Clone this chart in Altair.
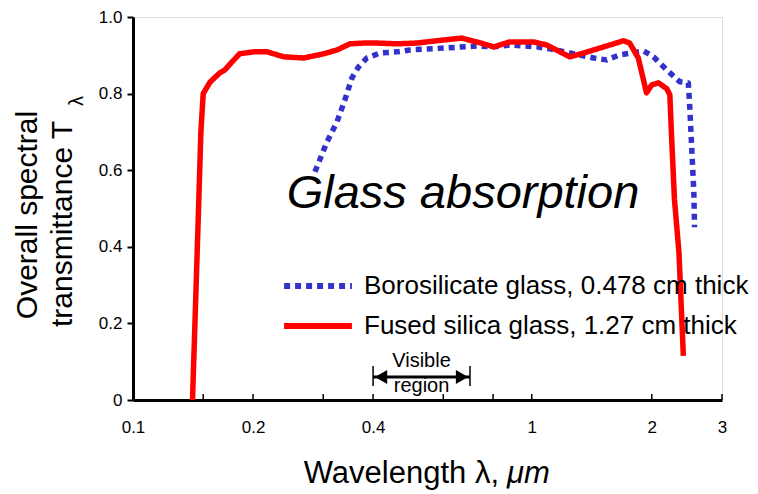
import altair as alt
import pandas as pd

# ---------------- data ----------------
boro_label = "Borosilicate glass, 0.478 cm thick"
fused_label = "Fused silica glass, 1.27 cm thick"

boro_wl = [0.286, 0.306, 0.325, 0.340, 0.354, 0.368, 0.386, 0.416, 0.459, 0.495,
           0.602, 0.728, 0.803, 0.881, 1.03, 1.11, 1.245, 1.43, 1.54, 1.66,
           1.91, 2.02, 2.18, 2.35, 2.47, 2.49, 2.52, 2.55, 2.56]
boro_T = [0.596, 0.672, 0.727, 0.784, 0.841, 0.870, 0.893, 0.906, 0.909, 0.914,
          0.919, 0.924, 0.922, 0.927, 0.922, 0.917, 0.906, 0.893, 0.888, 0.901,
          0.911, 0.896, 0.862, 0.831, 0.828, 0.766, 0.654, 0.542, 0.451]

fused_wl = [0.141, 0.143, 0.1455, 0.148, 0.150, 0.156, 0.165, 0.170, 0.185, 0.201,
            0.217, 0.239, 0.268, 0.301, 0.325, 0.350, 0.379, 0.409, 0.459, 0.515,
            0.578, 0.668, 0.728, 0.803, 0.881, 1.01, 1.09, 1.245, 1.35, 1.70,
            1.76, 1.85, 1.94, 2.0, 2.08, 2.18, 2.22, 2.24, 2.28, 2.34, 2.40]
fused_T = [0.0, 0.2, 0.45, 0.7, 0.80, 0.83, 0.854, 0.862, 0.904, 0.909,
           0.909, 0.896, 0.893, 0.904, 0.914, 0.930, 0.932, 0.932, 0.930, 0.932,
           0.938, 0.945, 0.935, 0.922, 0.935, 0.935, 0.927, 0.896, 0.906, 0.938,
           0.932, 0.893, 0.802, 0.823, 0.828, 0.813, 0.797, 0.698, 0.523, 0.385, 0.115]

x_label_values = [0.1, 0.2, 0.4, 1, 2, 3]
x_minor_ticks = [0.15, 0.2, 0.3, 0.4, 0.6, 0.8, 1, 2, 3]
y_tick_values = [0, 0.2, 0.4, 0.6, 0.8, 1.0]
visible_range = [0.4, 0.7]

title_text = "Glass absorption"
x_title_main = "Wavelength \u03bb,"
x_title_unit = "\u03bcm"
y_title_line1 = "Overall spectral"
y_title_line2 = "transmittance T"
y_title_sub = "\u03bb"
visible_text = ["Visible", "region"]

FONT = "Liberation Sans"
BLUE = "#3333cc"
RED = "#ff0000"

# ---------------- build tables ----------------
df = pd.concat([
    pd.DataFrame({"wl": boro_wl, "T": boro_T, "series": boro_label,
                  "order": list(range(len(boro_wl)))}),
    pd.DataFrame({"wl": fused_wl, "T": fused_T, "series": fused_label,
                  "order": list(range(len(fused_wl)))}),
], ignore_index=True)

xscale = alt.Scale(type="log", domain=[0.1, 3])
yscale = alt.Scale(domain=[0, 1])

xaxis = alt.Axis(values=x_label_values, format="~g", ticks=False, tickSize=0,
                 labelFlush=False, labelOverlap=False, labelPadding=19,
                 labelFontSize=17, labelFont=FONT, labelColor="black",
                 domainWidth=3, domainColor="black", grid=False, title=None)
yaxis = alt.Axis(values=y_tick_values,
                 labelExpr="datum.value == 0 ? '0' : format(datum.value, '.1f')",
                 tickSize=6, tickWidth=2, tickColor="black",
                 domainWidth=3, domainColor="black", grid=False, title=None,
                 labelFontSize=17, labelFont=FONT, labelColor="black", labelPadding=5)


def X(field="wl"):
    return alt.X(f"{field}:Q", scale=xscale, axis=xaxis)


def Y(field="T"):
    return alt.Y(f"{field}:Q", scale=yscale, axis=yaxis)


legend = alt.Legend(title=None, orient="none", legendX=148, legendY=256,
                    symbolType="stroke", symbolSize=4600, symbolStrokeWidth=6,
                    clipHeight=26, rowPadding=14, labelFontSize=26, labelFont=FONT,
                    labelColor="black", labelOffset=9, padding=0, labelLimit=600)

series_domain = [boro_label, fused_label]

lines = alt.Chart(df).mark_line(strokeWidth=5.5, strokeCap="butt", strokeJoin="round").encode(
    x=X(), y=Y(),
    color=alt.Color("series:N", scale=alt.Scale(domain=series_domain, range=[BLUE, RED]),
                    legend=legend),
    strokeDash=alt.StrokeDash("series:N",
                              scale=alt.Scale(domain=series_domain, range=[[6, 5], [1, 0]]),
                              legend=legend),
    order="order:Q",
)

minor = alt.Chart(pd.DataFrame({"wl": x_minor_ticks})).mark_rule(
    color="black", strokeWidth=1.5).encode(x=X(), y=alt.value(383), y2=alt.value(377))

vis_df = pd.DataFrame({"wl": visible_range})
vis_bars = alt.Chart(vis_df).mark_rule(color="black", strokeWidth=1.5).encode(
    x=X(), y=alt.value(349), y2=alt.value(369))
vis_line = alt.Chart(pd.DataFrame({"wl": [visible_range[0]], "wl2": [visible_range[1]]})).mark_rule(
    color="black", strokeWidth=3).encode(x=X(), x2="wl2:Q", y=alt.value(360))
arrow_l = alt.Chart(pd.DataFrame({"wl": [visible_range[0]]})).mark_point(
    shape="triangle-left", filled=True, color="black", opacity=1, size=200, xOffset=8).encode(
    x=X(), y=alt.value(360))
arrow_r = alt.Chart(pd.DataFrame({"wl": [visible_range[1]]})).mark_point(
    shape="triangle-right", filled=True, color="black", opacity=1, size=200, xOffset=-8).encode(
    x=X(), y=alt.value(360))
mid = (visible_range[0] * visible_range[1]) ** 0.5
vis_t1 = alt.Chart(pd.DataFrame({"wl": [mid], "t": [visible_text[0]]})).mark_text(
    font=FONT, fontSize=20, color="black", baseline="middle", align="center").encode(
    x=X(), y=alt.value(344), text="t:N")
vis_t2 = alt.Chart(pd.DataFrame({"wl": [mid], "t": [visible_text[1]]})).mark_text(
    font=FONT, fontSize=20, color="black", baseline="middle", align="center").encode(
    x=X(), y=alt.value(369), text="t:N")

title_layer = alt.Chart(pd.DataFrame({"t": [title_text]})).mark_text(
    font=FONT, fontSize=47, fontStyle="italic", color="black", align="center",
    baseline="alphabetic").encode(x=alt.value(330), y=alt.value(191), text="t:N")

xt1 = alt.Chart(pd.DataFrame({"t": [x_title_main]})).mark_text(
    font=FONT, fontSize=31, color="black", align="right", baseline="alphabetic").encode(
    x=alt.value(366), y=alt.value(466), text="t:N")
xt2 = alt.Chart(pd.DataFrame({"t": [x_title_unit]})).mark_text(
    font=FONT, fontSize=31, fontStyle="italic", color="black", align="left",
    baseline="alphabetic").encode(x=alt.value(374), y=alt.value(466), text="t:N")

yt1 = alt.Chart(pd.DataFrame({"t": [y_title_line1]})).mark_text(
    font=FONT, fontSize=30, color="black", align="center", baseline="alphabetic",
    angle=270).encode(x=alt.value(-96), y=alt.value(198), text="t:N")
yt2 = alt.Chart(pd.DataFrame({"t": [y_title_line2]})).mark_text(
    font=FONT, fontSize=30, color="black", align="left", baseline="alphabetic",
    angle=270).encode(x=alt.value(-61), y=alt.value(310), text="t:N")
yt3 = alt.Chart(pd.DataFrame({"t": [y_title_sub]})).mark_text(
    font=FONT, fontSize=20, color="black", align="center", baseline="alphabetic",
    angle=270).encode(x=alt.value(-50), y=alt.value(84), text="t:N")

chart = alt.layer(
    lines, minor, vis_bars, vis_line, arrow_l, arrow_r, vis_t1, vis_t2,
    title_layer, xt1, xt2, yt1, yt2, yt3,
).properties(
    width=589, height=383,
    padding={"left": 125, "top": 9, "right": 28, "bottom": 94},
    autosize=alt.AutoSizeParams(type="none"),
    background="white",
).configure_view(stroke=None).configure(font=FONT)

chart.save("out.html", embed_options={"renderer": "svg", "actions": False})
